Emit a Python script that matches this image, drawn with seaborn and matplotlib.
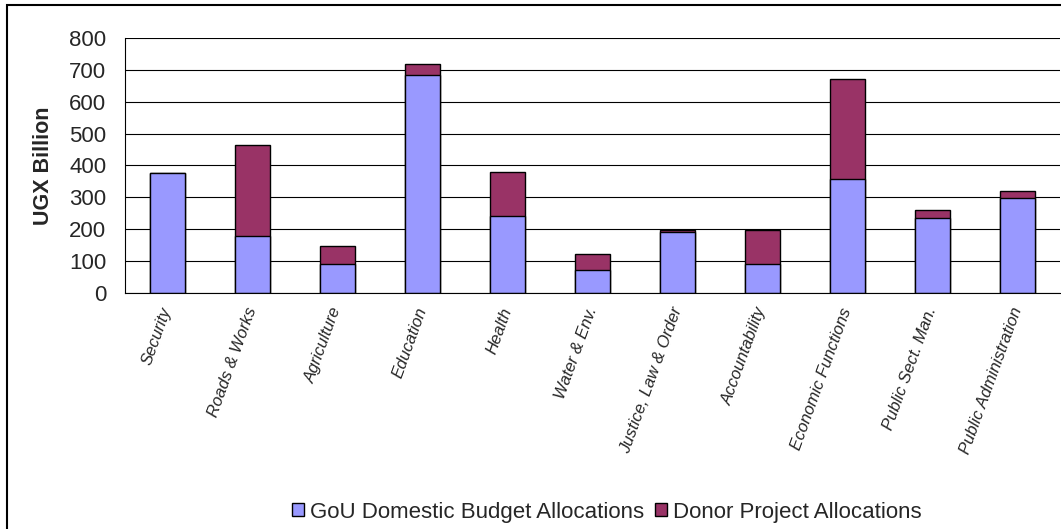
import matplotlib
matplotlib.use("Agg")
import matplotlib.pyplot as plt
import seaborn as sns
import numpy as np
import pandas as pd
from matplotlib.patches import Patch, Rectangle

# Sector allocations (UGX billion)
categories = [
    "Security", "Roads & Works", "Agriculture", "Education", "Health",
    "Water & Env.", "Justice, Law & Order", "Accountability",
    "Economic Functions", "Public Sect. Man.", "Public Administration",
]
gou_domestic = [375, 178, 89, 684, 241, 71, 191, 89, 357, 236, 299]
donor_project = [0, 286, 58, 36, 138, 50, 5, 107, 315, 23, 19]

series_names = ["GoU Domestic Budget Allocations", "Donor Project Allocations"]
y_ticks = [0, 100, 200, 300, 400, 500, 600, 700, 800]

gou_color = "#9999FF"
donor_color = "#993366"

df = pd.DataFrame({
    "sector": categories,
    "gou": gou_domestic,
    "donor": donor_project,
})
df["total"] = df["gou"] + df["donor"]

sns.set_style("white")
plt.rcParams["font.family"] = ["Liberation Sans", "DejaVu Sans"]

fig, ax = plt.subplots(figsize=(10.61, 5.29), dpi=100)
fig.subplots_adjust(left=0.1178, right=0.999, top=0.928, bottom=0.4467)

# Stacked bars: full height in donor colour, domestic share drawn over it
sns.barplot(data=df, x="sector", y="total", order=categories, color=donor_color,
            saturation=1, width=0.42, edgecolor="black", linewidth=1,
            errorbar=None, ax=ax)
sns.barplot(data=df, x="sector", y="gou", order=categories, color=gou_color,
            saturation=1, width=0.42, edgecolor="black", linewidth=1,
            errorbar=None, ax=ax)

ax.set_xlim(-0.5, len(categories) - 0.5)
ax.set_ylim(0, 800)
ax.set_yticks(y_ticks)
ax.yaxis.grid(True, color="black", linewidth=0.8)
ax.xaxis.grid(False)
ax.set_axisbelow(True)

ax.set_xlabel("")
ax.set_ylabel("UGX Billion", fontsize=15.5, fontweight="bold")
ax.yaxis.set_label_coords(-0.076, 0.5)

ax.set_xticks(range(len(categories)))
ax.set_xticklabels(categories, rotation=70, ha="right", va="center",
                   rotation_mode="anchor", fontsize=12, fontstyle="italic")
ax.tick_params(axis="x", which="major", length=0, pad=11)
ax.set_xticks(np.arange(-0.5, len(categories), 1.0), minor=True)
ax.tick_params(axis="x", which="minor", length=4, width=0.8, direction="out",
               color="black")
ax.tick_params(axis="y", direction="inout", length=9, width=0.8, pad=9,
               labelsize=16, color="black")

for side in ("top", "right"):
    ax.spines[side].set_visible(False)
for side in ("left", "bottom"):
    ax.spines[side].set_color("black")
    ax.spines[side].set_linewidth(0.8)

handles = [
    Patch(facecolor=gou_color, edgecolor="black", linewidth=1),
    Patch(facecolor=donor_color, edgecolor="black", linewidth=1),
]
fig.legend(handles, series_names, loc="center", bbox_to_anchor=(0.572, 0.032),
           ncol=2, frameon=False, fontsize=16, handlelength=0.55,
           handleheight=0.55, handletextpad=0.25, columnspacing=0.5)

# Chart-area frame
fig.patches.append(Rectangle((7 / 1061, -0.2), 1.2, 1.2 - 5 / 529,
                             transform=fig.transFigure, fill=False,
                             edgecolor="black", linewidth=1.5))

fig.savefig("out.png", dpi=100)
